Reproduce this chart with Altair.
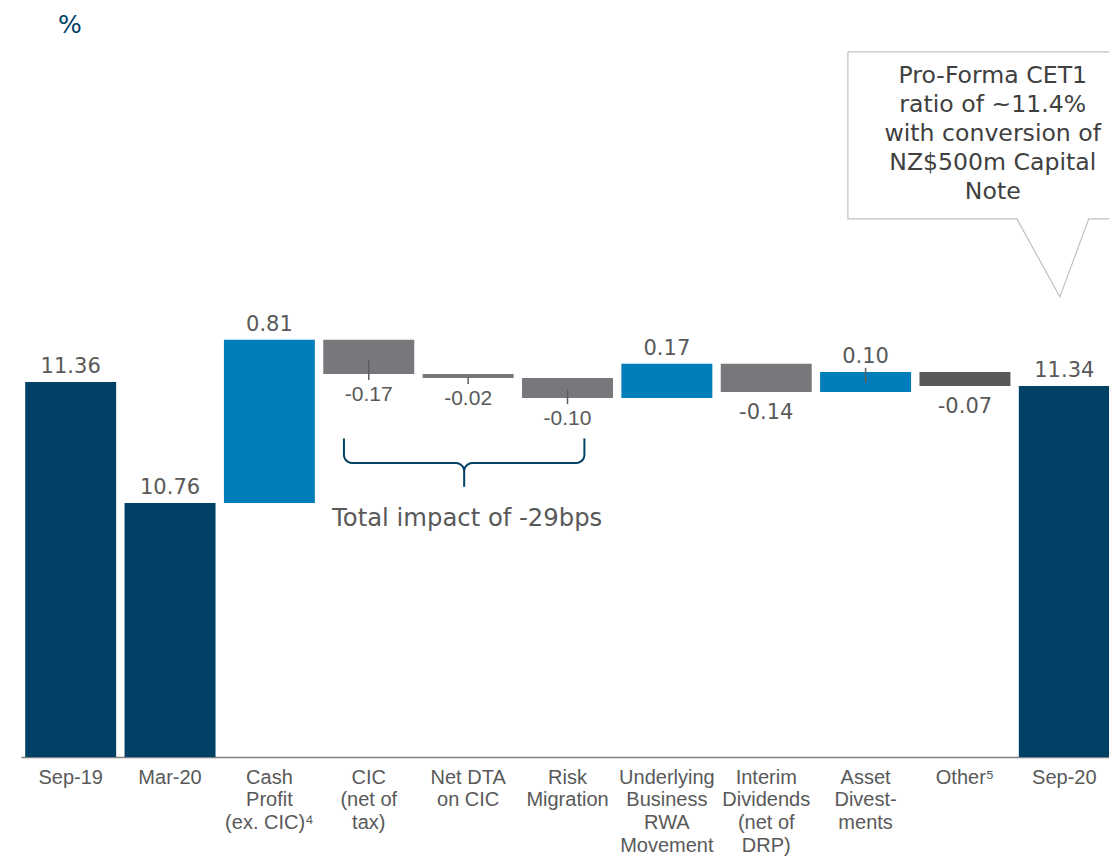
import math
import altair as alt
import pandas as pd

# ---------------- data ----------------
categories = [
    "Sep-19", "Mar-20", "Cash|Profit|(ex. CIC)⁴", "CIC|(net of|tax)", "Net DTA|on CIC",
    "Risk|Migration", "Underlying|Business|RWA|Movement", "Interim|Dividends|(net of|DRP)",
    "Asset|Divest-|ments", "Other⁵", "Sep-20",
]
values = [11.36, 10.76, 0.81, -0.17, -0.02, -0.10, 0.17, -0.14, 0.10, -0.07, 11.34]
kinds = ["total", "total", "up", "down", "down", "down", "up", "down", "up", "other", "total"]

leader_cats = [categories[3], categories[4], categories[5], categories[8]]
leader_top = [11.47, 11.385, 11.325, 11.43]
leader_bottom = [11.37, 11.35, 11.25, 11.355]

callout_lines = ["Pro-Forma CET1", "ratio of ~11.4%", "with conversion of", "NZ$500m Capital", "Note"]
brace_text = "Total impact of -29bps"
unit_label = "%"

# ---------------- layout / style ----------------
BASE = 9.5
Y_DOMAIN = [9.5, 13.2]
X_UNITS = [0, 11]
X_RANGE = [0, 1093]
ARIAL_LABEL_CATS = categories[3:6]
NAVY, BLUE, GREY, DARKGREY = "#004165", "#007dba", "#77787b", "#58595b"
TXT = "#595959"

rows = []
level = None
for c, v, k in zip(categories, values, kinds):
    if k == "total":
        start, end = BASE, v
        level = v
    else:
        start, end = level, level + v
        level = end
    rows.append(dict(cat=c, start=start, end=end, top=max(start, end), bottom=min(start, end),
                     label=f"{v:.2f}", kind=k,
                     pos="neg" if (k != "total" and v < 0) else "pos",
                     font="arial" if c in ARIAL_LABEL_CATS else "dejavu"))
df = pd.DataFrame(rows)
leaders = pd.DataFrame(dict(cat=leader_cats, top=leader_top, bottom=leader_bottom))

xband = alt.X("cat:N", sort=categories,
              scale=alt.Scale(paddingInner=0.0845, paddingOuter=0.04225, range=X_RANGE),
              axis=alt.Axis(title=None, labelAngle=0, labelExpr="split(datum.value, '|')",
                            ticks=False, labelPadding=10, labelFont="Liberation Sans",
                            labelFontSize=20, labelColor=TXT, labelLineHeight=22.8,
                            labelBaseline="top", domainColor="#7f7f7f", domainWidth=1.5,
                            grid=False, labelLimit=0))


def yq(field):
    return alt.Y(field, type="quantitative",
                 scale=alt.Scale(domain=Y_DOMAIN, nice=False, zero=False), axis=None)


def xq(field):
    return alt.X(field, type="quantitative",
                 scale=alt.Scale(domain=X_UNITS, range=X_RANGE, nice=False, zero=False),
                 axis=None)


base = alt.Chart(df)
bars = base.mark_bar().encode(
    x=xband, y=yq("start"), y2="end",
    color=alt.Color("kind:N", scale=alt.Scale(domain=["total", "up", "down", "other"],
                                              range=[NAVY, BLUE, GREY, DARKGREY]), legend=None),
)
lead = alt.Chart(leaders).mark_rule(color="#5f5f5f", strokeWidth=1.5).encode(
    x=alt.X("cat:N", sort=categories), y=yq("top"), y2="bottom")

lbl_pos = base.transform_filter("datum.pos == 'pos'").mark_text(
    font="DejaVu Sans", fontSize=21, color=TXT, baseline="alphabetic", dy=-9
).encode(x=alt.X("cat:N", sort=categories), y=yq("top"), text="label:N")
lbl_neg_dv = base.transform_filter("datum.pos == 'neg' && datum.font == 'dejavu'").mark_text(
    font="DejaVu Sans", fontSize=21, color=TXT, baseline="alphabetic", dy=27
).encode(x=alt.X("cat:N", sort=categories), y=yq("bottom"), text="label:N")
lbl_neg_ar = base.transform_filter("datum.pos == 'neg' && datum.font == 'arial'").mark_text(
    font="Liberation Sans", fontSize=21, color=TXT, baseline="alphabetic", dy=27
).encode(x=alt.X("cat:N", sort=categories), y=yq("bottom"), text="label:N")

band_layer = alt.layer(bars, lead, lbl_pos, lbl_neg_dv, lbl_neg_ar)

# ---------------- annotations (in category units) ----------------
box_pts = [(8.322, 12.997), (11.11, 12.997), (11.11, 12.169), (10.746, 12.169),
           (10.455, 11.782), (10.023, 12.169), (8.322, 12.169), (8.322, 12.997)]
box_df = pd.DataFrame([dict(x=a, y=b, o=i) for i, (a, b) in enumerate(box_pts)])
callout_box = alt.Chart(box_df).mark_line(color="#c0c0c0", strokeWidth=1.2).encode(
    x=xq("x"), y=yq("y"), order="o:Q")

callout_text = alt.Chart(pd.DataFrame(dict(x=[9.78], y=[12.843]))).mark_text(
    text=callout_lines, lineHeight=29, fontSize=23.6, font="DejaVu Sans", color="#404040",
    align="center", baseline="alphabetic").encode(x=xq("x"), y=yq("y"))

# brace
L, R, C, TOP, BAR, TIP = 3.25, 5.67, 4.46, 11.08, 10.958, 10.84
RX, RY = 0.085, 0.04


def arc(cx, cy, a0, a1, n=6):
    return [(cx + RX * math.cos(math.radians(a0 + (a1 - a0) * t / n)),
             cy + RY * math.sin(math.radians(a0 + (a1 - a0) * t / n))) for t in range(n + 1)]


pts = [(L, TOP)]
pts += arc(L + RX, BAR + RY, 180, 270)
pts += arc(C - RX, BAR - RY, 90, 0)
pts += [(C, TIP)]
pts += arc(C + RX, BAR - RY, 180, 90)
pts += arc(R - RX, BAR + RY, 270, 360)
pts += [(R, TOP)]
brace_df = pd.DataFrame([dict(x=a, y=b, o=i) for i, (a, b) in enumerate(pts)])
brace = alt.Chart(brace_df).mark_line(color=NAVY, strokeWidth=2).encode(
    x=xq("x"), y=yq("y"), order="o:Q")

brace_label = alt.Chart(pd.DataFrame(dict(x=[4.49], y=[10.681], t=[brace_text]))).mark_text(
    fontSize=24.3, font="DejaVu Sans", color=TXT, align="center", baseline="middle"
).encode(x=xq("x"), y=yq("y"), text="t:N")

pct = alt.Chart(pd.DataFrame(dict(x=[0.493], y=[13.13], t=[unit_label]))).mark_text(
    fontSize=25, font="DejaVu Sans", color=NAVY, align="center", baseline="middle"
).encode(x=xq("x"), y=yq("y"), text="t:N")

annot_layer = alt.layer(callout_box, callout_text, brace, brace_label, pct)

chart = alt.layer(band_layer, annot_layer).resolve_scale(x="independent").properties(
    width=1088, height=746,
    padding={"left": 13, "top": 3, "right": 0, "bottom": 99},
    autosize=alt.AutoSizeParams(type="none"),
).configure_view(stroke=None)

chart.save("out.html", embed_options={"renderer": "svg", "actions": False})
